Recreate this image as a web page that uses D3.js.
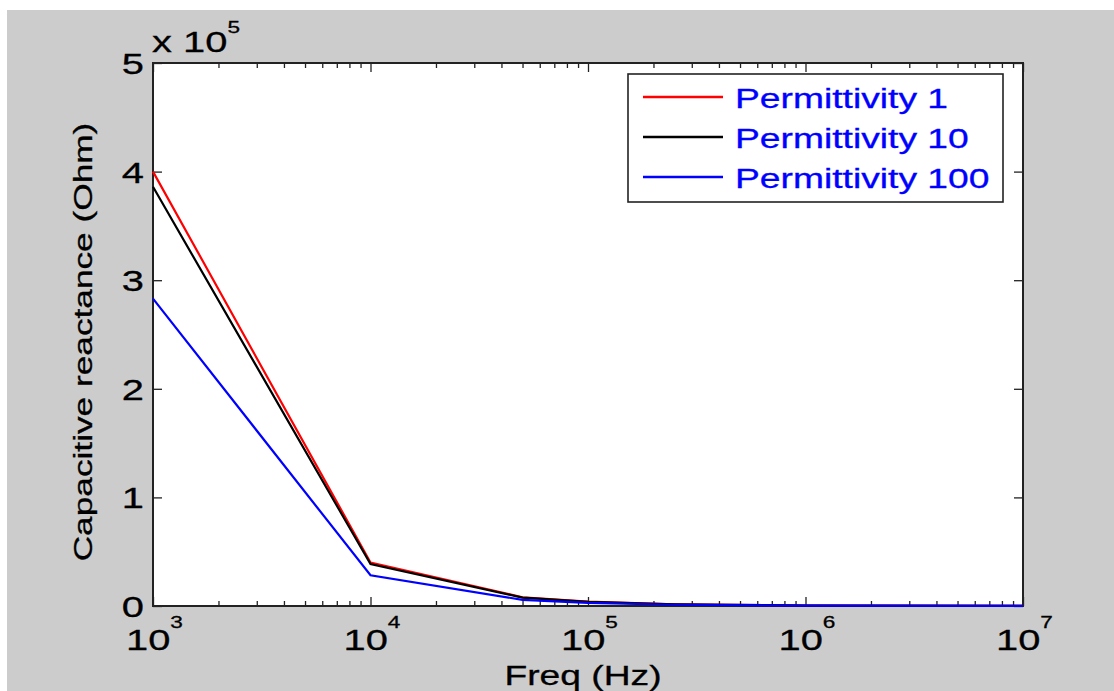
<html>
  <head>
    <script src="https://d3js.org/d3.v7.min.js"></script>
    <style type="text/css">
      body { margin: 0; background: #fff; }
      svg text { font-family: "Liberation Sans", Arial, sans-serif; fill: #000; }
    </style>
  </head>
  <body>
    <svg id="chart" width="1114" height="691"></svg>
    <script>
      // values (ohm)
      var freqs = [1e3, 1e4, 5e4, 1e5, 2.5e5, 1e6, 1e7];
      var perm1 = [400000, 40000, 8000, 4000, 1600, 400, 40];
      var perm10 = [386000, 38600, 7720, 3860, 1544, 386, 38.6];
      var perm100 = [283000, 28300, 5660, 2830, 1132, 283, 28.3];
      var seriesNames = ["Permittivity 1", "Permittivity 10", "Permittivity 100"];
      var seriesColors = ["#ff0000", "#000000", "#0000ff"];
      var xDecades = [1e3, 1e4, 1e5, 1e6, 1e7];
      var yTicks = [0, 1e5, 2e5, 3e5, 4e5, 5e5];

      var W = 1114, H = 691;
      var pL = 153, pT = 63, pR = 1023, pB = 606;
      var sx = 1.33; // the original font runs wide

      var svg = d3.select("#chart");
      svg.append("rect").attr("x", 7).attr("y", 10).attr("width", W - 7).attr("height", H - 10)
        .attr("fill", "#cccccc");
      svg.append("rect").attr("x", pL).attr("y", pT).attr("width", pR - pL).attr("height", pB - pT)
        .attr("fill", "#fff");

      var x = d3.scaleLog().domain([1e3, 1e7]).range([pL, pR]);
      var y = d3.scaleLinear().domain([0, 5e5]).range([pB, pT]);

      var minor = [];
      xDecades.slice(0, -1).forEach(function(d) {
        for (var k = 2; k < 10; k++) minor.push(d * k);
      });

      function ticks(axis, tr) {
        var g = svg.append("g").attr("transform", tr).call(axis);
        g.select(".domain").remove();
        g.selectAll(".tick line").attr("stroke", "#222").attr("stroke-width", 1.3);
        return g;
      }
      ticks(d3.axisBottom(x).tickValues(minor).tickSize(-5).tickFormat(""), "translate(0," + pB + ")");
      ticks(d3.axisBottom(x).tickValues(xDecades).tickSize(-9).tickFormat(""), "translate(0," + pB + ")");
      ticks(d3.axisTop(x).tickValues(minor).tickSize(-5).tickFormat(""), "translate(0," + pT + ")");
      ticks(d3.axisTop(x).tickValues(xDecades).tickSize(-9).tickFormat(""), "translate(0," + pT + ")");
      ticks(d3.axisLeft(y).tickValues(yTicks).tickSize(-9).tickFormat(""), "translate(" + pL + ",0)");
      ticks(d3.axisRight(y).tickValues(yTicks).tickSize(-9).tickFormat(""), "translate(" + pR + ",0)");

      svg.append("rect").attr("x", pL).attr("y", pT).attr("width", pR - pL).attr("height", pB - pT)
        .attr("fill", "none").attr("stroke", "#222").attr("stroke-width", 2);

      function label(px, py, rot) {
        return svg.append("text")
          .attr("stroke", "#000").attr("stroke-width", 0.3)
          .attr("transform", "translate(" + px + "," + py + ") rotate(" + (rot || 0) + ") scale(" + sx + ",1)");
      }

      // y tick labels
      yTicks.forEach(function(v) {
        label(pL - 9, y(v) + 11).attr("text-anchor", "end").attr("font-size", 30).text(v / 1e5);
      });
      // exponent above axis
      var ex = label(152, 52).attr("font-size", 30);
      ex.append("tspan").text("x 10");
      ex.append("tspan").attr("font-size", 17).attr("dy", -19).text("5");

      // x tick labels 10^n
      xDecades.forEach(function(v) {
        var t = label(x(v) - 27, 650).attr("font-size", 30);
        t.append("tspan").text("10");
        t.append("tspan").attr("font-size", 17).attr("dy", -22).text(Math.round(Math.log10(v)));
      });

      label(583, 685).attr("text-anchor", "middle").attr("font-size", 28).text("Freq (Hz)");
      label(92, 342, -90).attr("text-anchor", "middle").attr("font-size", 26.5).text("Capacitive reactance (Ohm)");

      var line = d3.line().x(function(d) { return x(d[0]); }).y(function(d) { return y(d[1]); });
      [perm1, perm10, perm100].forEach(function(vals, i) {
        svg.append("path")
          .attr("d", line(freqs.map(function(f, j) { return [f, vals[j]]; })))
          .attr("fill", "none").attr("stroke", seriesColors[i]).attr("stroke-width", 2.2);
      });

      // legend
      var lg = svg.append("g");
      lg.append("rect").attr("x", 628).attr("y", 74).attr("width", 375).attr("height", 128)
        .attr("fill", "#fff").attr("stroke", "#222").attr("stroke-width", 1.6);
      seriesNames.forEach(function(name, i) {
        var ry = 97 + i * 40;
        lg.append("line").attr("x1", 643).attr("x2", 723).attr("y1", ry).attr("y2", ry)
          .attr("stroke", seriesColors[i]).attr("stroke-width", 2.5);
        lg.append("text")
          .attr("transform", "translate(735," + (ry + 11) + ") scale(" + sx + ",1)")
          .attr("stroke", "#0000ff").attr("stroke-width", 0.3)
          .attr("font-size", 28).style("fill", "#0000ff").text(name);
      });
    </script>
  </body>
</html>
